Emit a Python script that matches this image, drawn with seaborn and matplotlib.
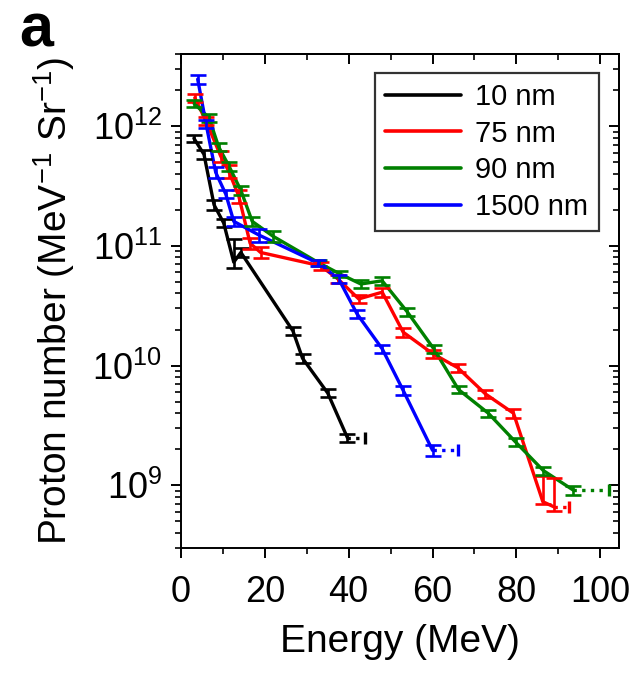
import matplotlib

matplotlib.use("Agg")

import matplotlib.pyplot as plt
import numpy as np
import pandas as pd
import seaborn as sns
from matplotlib.lines import Line2D
from matplotlib.ticker import LogLocator, MultipleLocator, NullFormatter

# spectra (energy in MeV, protons per MeV per Sr)
THICKNESS = ["10 nm", "75 nm", "90 nm", "1500 nm"]
COLORS = ["#000000", "#ff0000", "#008000", "#0000ff"]

energy_10 = [3.1, 5.5, 7.9, 10.2, 12.6, 14.3, 26.7, 29.0, 35.0, 39.7]
number_10 = [7.9e11, 5.8e11, 2.2e11, 1.55e11, 7.3e10, 8.8e10, 1.95e10, 1.15e10, 5.9e9, 2.5e9]
err_up_10 = [0.07, 0.08, 0.1, 0.08, 0.55, 0.08, 0.08, 0.08, 0.08, 0.08]
err_lo_10 = [0.07, 0.08, 0.1, 0.08, 0.1, 0.08, 0.08, 0.08, 0.08, 0.08]

energy_75 = [3.3, 6.0, 9.5, 11.4, 13.8, 16.5, 19.0, 33.3, 37.4, 42.4, 48.0, 53.0, 60.0, 66.0, 72.6, 79.3, 86.3, 89.0]
number_75 = [1.72e12, 1.1e12, 5.6e11, 4.2e11, 2.6e11, 1.05e11, 8.8e10, 6.8e10, 5.3e10, 3.6e10, 4.1e10,
             1.9e10, 1.26e10, 9.6e9, 5.8e9, 4.0e9, 7.3e8, 6.6e8]
err_up_75 = [0.07, 0.08, 0.1, 0.12, 0.12, 0.1, 0.1, 0.07, 0.07, 0.08, 0.08, 0.08, 0.08, 0.08, 0.08,
             0.08, 0.64, 0.74]
err_lo_75 = [0.07, 0.08, 0.1, 0.12, 0.12, 0.1, 0.1, 0.07, 0.07, 0.08, 0.08, 0.08, 0.08, 0.08, 0.08,
             0.08, 0.05, 0.08]

energy_90 = [3.1, 6.7, 9.0, 11.5, 14.3, 17.0, 22.0, 32.9, 38.0, 42.9, 48.0, 54.0, 60.3, 66.2, 73.3,
             79.8, 86.4, 93.6]
number_90 = [1.55e12, 1.17e12, 6.7e11, 4.6e11, 2.9e11, 1.6e11, 1.2e11, 7.2e10, 5.8e10, 4.8e10, 5.1e10,
             2.8e10, 1.38e10, 6.3e9, 4.0e9, 2.3e9, 1.33e9, 9.1e8]
err_up_90 = [0.07, 0.07, 0.08, 0.08, 0.08, 0.08, 0.1, 0.06, 0.06, 0.07, 0.07, 0.07, 0.07, 0.07, 0.07,
             0.07, 0.08, 0.08]
err_lo_90 = err_up_90

energy_1500 = [4.0, 6.0, 8.3, 10.7, 12.6, 18.6, 32.6, 37.6, 42.0, 48.0, 53.0, 60.0]
number_1500 = [2.46e12, 1.04e12, 4.1e11, 2.7e11, 1.6e11, 1.23e11, 7.2e10, 5.3e10, 2.7e10, 1.38e10,
               6.2e9, 1.96e9]
err_up_1500 = [0.09, 0.08, 0.1, 0.08, 0.08, 0.12, 0.06, 0.07, 0.08, 0.07, 0.08, 0.1]
err_lo_1500 = err_up_1500

# cut-off energy reached by each spectrum (dotted tail)
cutoff_energy = [44.0, 92.5, 102.0, 66.0]

series = [
    (energy_10, number_10, err_lo_10, err_up_10),
    (energy_75, number_75, err_lo_75, err_up_75),
    (energy_90, number_90, err_lo_90, err_up_90),
    (energy_1500, number_1500, err_lo_1500, err_up_1500),
]

frames = []
for label, (e, n, lo, up) in zip(THICKNESS, series):
    frame = pd.DataFrame({"energy": e, "number": n, "err_lo": lo, "err_up": up})
    frame["target"] = label
    frames.append(frame)
data = pd.concat(frames, ignore_index=True)

sns.set_style("ticks")
plt.rcParams["font.family"] = ["Liberation Sans", "DejaVu Sans"]
plt.rcParams["mathtext.fontset"] = "custom"
plt.rcParams["mathtext.rm"] = "Liberation Sans"
plt.rcParams["mathtext.it"] = "Liberation Sans:italic"
plt.rcParams["axes.linewidth"] = 1.4
plt.rcParams["axes.edgecolor"] = "black"
plt.rcParams["axes.labelcolor"] = "black"
plt.rcParams["text.color"] = "black"
plt.rcParams["xtick.color"] = "black"
plt.rcParams["ytick.color"] = "black"

fig = plt.figure(figsize=(6.37, 6.74), dpi=100)
ax = fig.add_axes([0.284, 0.187, 0.688, 0.733])

palette = dict(zip(THICKNESS, COLORS))
sns.lineplot(
    data=data, x="energy", y="number", hue="target", hue_order=THICKNESS, palette=palette,
    estimator=None, sort=False, linewidth=2.4, legend=False, ax=ax,
)

for label, color, tail in zip(THICKNESS, COLORS, cutoff_energy):
    sub = data[data["target"] == label]
    yerr = [sub["number"] * sub["err_lo"], sub["number"] * sub["err_up"]]
    ax.errorbar(sub["energy"], sub["number"], yerr=yerr, fmt="none",
                ecolor=color, elinewidth=1.9, capsize=5.5, capthick=1.9)
    last = sub.iloc[-1]
    ax.plot([last["energy"], tail], [last["number"], last["number"]], color=color, lw=2.4, ls=(0, (1, 1.6)))
    ax.plot([tail], [last["number"]], color=color, marker="|", ms=9, mew=2.4)

ax.set_yscale("log")
ax.set_xlim(0, 104.5)
ax.set_ylim(3e8, 4e12)

ax.xaxis.set_major_locator(MultipleLocator(20))
ax.xaxis.set_minor_locator(MultipleLocator(10))
ax.yaxis.set_major_locator(LogLocator(base=10, numticks=10))
ax.yaxis.set_minor_locator(LogLocator(base=10, subs=np.arange(2, 10), numticks=10))
ax.yaxis.set_minor_formatter(NullFormatter())
ax.tick_params(which="major", direction="out", length=7.5, width=1.4, labelsize=26)
ax.tick_params(axis="x", which="major", pad=12)
ax.tick_params(axis="y", which="major", pad=6)
ax.tick_params(which="minor", direction="out", length=4, width=1.2)

top = ax.secondary_xaxis("top")
top.xaxis.set_major_locator(MultipleLocator(20))
top.xaxis.set_minor_locator(MultipleLocator(10))
top.tick_params(which="major", direction="in", length=7.5, width=1.4, labeltop=False)
top.tick_params(which="minor", direction="in", length=4, width=1.2)
right = ax.secondary_yaxis("right")
right.yaxis.set_major_locator(LogLocator(base=10, numticks=10))
right.yaxis.set_minor_locator(LogLocator(base=10, subs=np.arange(2, 10), numticks=10))
right.tick_params(which="major", direction="in", length=7.5, width=1.4, labelright=False)
right.tick_params(which="minor", direction="in", length=4, width=1.2, labelright=False)

ax.set_xlabel("Energy (MeV)", fontsize=28, labelpad=10)
ax.set_ylabel("Proton number (MeV$^{-1}$ Sr$^{-1}$)", fontsize=28, labelpad=11)

handles = [Line2D([], [], color=c, lw=2.6) for c in COLORS]
leg = ax.legend(handles, THICKNESS, loc="upper right", bbox_to_anchor=(0.953, 0.962), fontsize=21,
                frameon=True, fancybox=False, edgecolor="black", handlelength=2.6, handletextpad=0.5,
                labelspacing=0.3, borderpad=0.35, borderaxespad=0)
leg.get_frame().set_linewidth(1.6)

fig.text(0.03, 0.997, "a", fontsize=44, fontweight="bold", va="top", ha="left")

fig.savefig("out.png", dpi=100)
plt.close(fig)
